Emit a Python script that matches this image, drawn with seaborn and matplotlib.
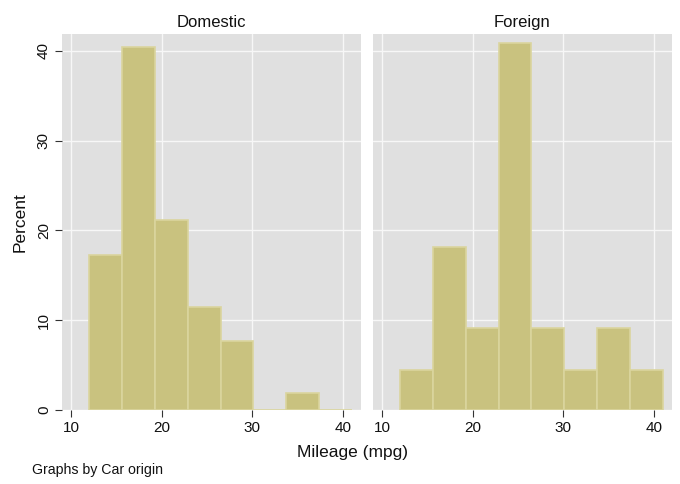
import matplotlib
matplotlib.use("Agg")
import matplotlib.pyplot as plt
import seaborn as sns
import numpy as np

# Data (percent of cars in each mpg bin, by origin)
bin_edges = [12, 15.625, 19.25, 22.875, 26.5, 30.125, 33.75, 37.375, 41]
groups = ["Domestic", "Foreign"]
domestic_pct = [17.3, 40.4, 21.2, 11.5, 7.7, 0.0, 1.9, 0.0]
foreign_pct = [4.5, 18.2, 9.1, 40.9, 9.1, 4.5, 9.1, 4.5]
x_ticks = [10, 20, 30, 40]
y_ticks = [0, 10, 20, 30, 40]

sns.set_theme(style="white")
plt.rcParams['font.family'] = ['Liberation Sans', 'DejaVu Sans']

fig = plt.figure(figsize=(6.8, 4.84), dpi=100)
ax1 = fig.add_axes([0.0912, 0.153, 0.4398, 0.777])
ax2 = fig.add_axes([0.5485, 0.153, 0.4395, 0.777])

centers = [(a + b) / 2 for a, b in zip(bin_edges[:-1], bin_edges[1:])]
bar_color = "#C9C27F"
edge_color = "#DAD59E"
bg = "#E0E0E0"

for ax, name, vals in zip([ax1, ax2], groups, [domestic_pct, foreign_pct]):
    ax.set_facecolor(bg)
    sns.histplot(x=centers, weights=vals, bins=bin_edges, ax=ax,
                 color=bar_color, edgecolor=edge_color, linewidth=1.2,
                 alpha=1, zorder=3)
    ax.set_xlim(9.0, 42.0)
    ax.set_ylim(0, 41.9)
    ax.set_xticks(x_ticks)
    ax.set_yticks(y_ticks)
    ax.grid(True, color="#F7F7F7", linewidth=1.0, zorder=1)
    ax.set_axisbelow(True)
    for s in ax.spines.values():
        s.set_visible(False)
    ax.set_title(name, fontsize=12, pad=5, color="#111111")
    ax.set_xlabel("")
    ax.set_ylabel("")
    ax.tick_params(axis="x", which="both", bottom=True, length=5, width=0.8,
                   color="#333333", labelsize=11, pad=3, labelcolor="#111111")

ax1.tick_params(axis="y", left=True, length=5, width=0.8, color="#333333",
                labelsize=11, pad=3, labelcolor="#111111")
for lbl in ax1.get_yticklabels():
    lbl.set_rotation(90)
    lbl.set_va("center")
ax2.tick_params(axis="y", left=False, labelleft=False)
ax1.set_ylabel("Percent", fontsize=12.5, labelpad=7, color="#111111")

fig.text(0.5185, 0.065, "Mileage (mpg)", ha="center", va="center",
         fontsize=12.5, color="#111111")
fig.text(0.047, 0.028, "Graphs by Car origin", ha="left", va="center",
         fontsize=10.2, color="#111111")

fig.savefig("out.png", dpi=100, facecolor="white")
